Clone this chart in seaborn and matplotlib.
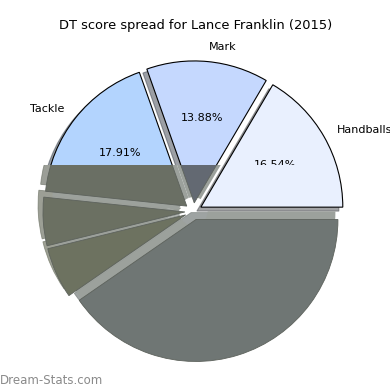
import matplotlib
matplotlib.use("Agg")
import matplotlib.pyplot as plt
import seaborn as sns
from matplotlib.patches import Rectangle, Shadow

# ---- data ----
categories = ["Handballs", "Mark", "Tackle", "Hitout", "Free For", "Kick"]
shares = [16.54, 13.88, 17.91, 5.50, 5.80, 40.37]
shown_labels = ["Handballs", "Mark", "Tackle", "", "", ""]
wedge_colors = ["#e9f0fe", "#c5d8fe", "#b3d4fe", "#6b7062", "#6d7260", "#6f7674"]
shade_colors = ["#e9f0fe", "#636972", "#6a6f64", "#6b7062", "#6d7260", "#6f7674"]
backing_color = "#9ca19c"
title = "DT score spread for Lance Franklin (2015)"
credit = "Dream-Stats.com"

sns.set_theme(style="white")
plt.rcParams["font.family"] = ["DejaVu Sans"]

fig = plt.figure(figsize=(3.9, 3.9), dpi=100)
ax = fig.add_axes([0.041, 0.003, 0.91, 0.91])

explode = [0.06] * len(shares)
cut_y = 0.327  # boundary of the grey lower layer (data units)

_counter = iter(range(len(shares)))


def autopct(p):
    i = next(_counter)
    return f"{p:.2f}%" if shown_labels[i] else ""


def lower_rect():
    return Rectangle((-2, -4), 4, 4 + cut_y, transform=ax.transData)


# base layer
wedges, texts, autotexts = ax.pie(
    shares, labels=shown_labels, colors=sns.color_palette(wedge_colors),
    explode=explode, startangle=0, counterclock=True, shadow=True,
    autopct=autopct, pctdistance=0.6, labeldistance=1.1,
    wedgeprops=dict(edgecolor="black", linewidth=0.8),
    textprops=dict(fontsize=8, color="black"),
)
upper_clip = Rectangle((-2, cut_y), 4, 4, transform=ax.transData)
for p in list(ax.patches):
    if p is wedges[0] or (isinstance(p, Shadow) and p.patch is wedges[0]):
        continue
    p.set_clip_on(True)
    p.set_clip_path(upper_clip)
autotexts[0].set_clip_on(True)
autotexts[0].set_clip_path(Rectangle((-2, cut_y), 4, 4, transform=ax.transData))

# light backing of the grey lower layer
n_before = len(ax.patches)
wb, _ = ax.pie(
    shares, colors=[backing_color] * len(shares), startangle=0,
    counterclock=True, radius=1.0,
    wedgeprops=dict(width=0.9, linewidth=0),
)
for p in list(ax.patches[n_before:]):
    if p is wb[0]:
        p.remove()
    else:
        p.set_clip_on(True)
        p.set_clip_path(lower_rect())

# grey lower layer
n_before = len(ax.patches)
w2, _ = ax.pie(
    shares, colors=sns.color_palette(shade_colors), explode=explode,
    startangle=0, counterclock=True,
    shadow=dict(ox=-0.025, oy=0.035, shade=0.0, alpha=0.67),
    wedgeprops=dict(edgecolor="#5d625c", linewidth=0.6),
)
for p in list(ax.patches[n_before:]):
    if p is w2[0] or (isinstance(p, Shadow) and p.patch is w2[0]):
        p.remove()
    else:
        p.set_clip_on(True)
        p.set_clip_path(lower_rect())

fig.text(196 / 390, 1 - 25 / 390, title, ha="center", va="center",
         fontsize=9.4, color="black")
fig.text(0.0, 1 - 380 / 390, credit, ha="left", va="center",
         fontsize=8.5, color="#8a8a8a")

fig.savefig("out.png", dpi=100)
